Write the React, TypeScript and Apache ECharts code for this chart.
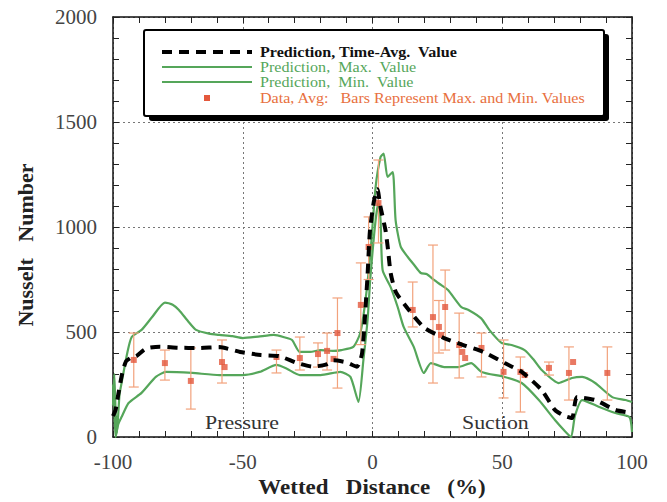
import React, { useEffect, useRef } from "react";
import * as echarts from "echarts";

// Prediction, time-averaged value [x, y]
const predAvg: number[][] = [
  [-100, 100], [-99, 130], [-98, 200], [-96.5, 300], [-95, 360], [-93, 378], [-91, 385], [-88, 415],
  [-86, 425], [-82, 430], [-75, 425], [-67, 424], [-59, 428], [-51, 405], [-43, 390], [-36, 385],
  [-29, 352], [-23, 335], [-18, 345], [-15, 365], [-10, 355], [-6, 335], [-4, 400], [-2, 750],
  [-1, 980], [0.5, 1120], [1.9, 1180], [3, 1100], [5, 985], [6, 890], [7, 780], [9, 690],
  [14, 605], [20, 520], [27.6, 471], [35, 438], [42.7, 405], [50.9, 352], [57.5, 310],
  [65.2, 224], [70.3, 129], [74, 100], [76.9, 90], [78.8, 190], [85.8, 176], [93.6, 129], [100, 114],
];

// Prediction, max value
const predMax: number[][] = [
  [-100, 150], [-99.5, 300], [-99, 120], [-98.5, 20], [-97.5, 200], [-96.7, 257], [-94.5, 400],
  [-92.8, 476], [-89, 510], [-85, 570], [-80, 640], [-77, 630], [-74.6, 605], [-71, 550], [-68, 510],
  [-63, 492], [-59, 486], [-54, 480], [-50, 471], [-44, 478], [-38, 486], [-34, 475], [-31, 462],
  [-28, 405], [-24, 405], [-20, 414], [-15, 410], [-12, 414], [-7.4, 429], [-4.7, 495], [-2.7, 652],
  [-0.8, 876], [1.2, 1190], [3.1, 1333], [4.3, 1350], [5.8, 1238], [7.8, 1262], [8.9, 1033],
  [10.9, 905], [13.6, 857], [16, 820], [18.6, 781], [21, 775], [23.7, 748], [26.4, 724], [29.1, 700],
  [34.2, 619], [37, 605], [41.9, 565], [45, 510], [49.7, 448], [53.6, 438], [58.6, 414], [62, 370],
  [65.2, 319], [71.8, 257], [76.9, 281], [80.8, 286], [85.8, 257], [92.4, 190], [97.5, 176], [100, 167],
];

// Prediction, min value
const predMin: number[][] = [
  [-100, 250], [-99.5, 150], [-99, 0], [-98, 60], [-96.7, 95], [-94, 162], [-89, 210], [-83.5, 286],
  [-79.6, 310], [-69.5, 305], [-59, 295], [-50, 295], [-43.5, 310], [-37, 343], [-33, 325], [-28, 295],
  [-20, 295], [-12.4, 310], [-8.5, 286], [-5.4, 167], [-3.5, 367], [-1.9, 557], [-0.8, 762],
  [1.2, 1033], [2.3, 1114], [3.1, 1033], [3.9, 795], [7, 714], [9.7, 619], [12, 524], [15.9, 429],
  [19.8, 305], [22.5, 352], [27.6, 333], [33, 333], [38, 352], [42, 310], [50.9, 286], [57.5, 257],
  [64.1, 176], [70.3, 81], [74, 30], [76.5, 0], [78, 100], [80.8, 176], [87.4, 143], [93.6, 114],
  [99, 95], [100, 24],
];

// Measured data: position, average, min, max (null = no bar)
const dataX: number[] = [-92, -80, -70, -58, -57, -37, -28, -21, -17.5, -15, -13.5, -4.5, -1.5, 2.3, 15.5, 23.3, 25.6, 26.4, 28, 33.4, 34.6, 35.7, 42, 50.5, 57, 58.6, 68, 75.7, 77.3, 90.5];
const dataAvg: number[] = [367, 352, 267, 357, 333, 381, 376, 395, 410, 372, 495, 629, 905, 1114, 605, 571, 524, 486, 619, 438, 405, 376, 424, 310, 310, 295, 329, 305, 357, 305];
const dataLow: (number | null)[] = [238, 271, 133, 257, null, 305, 319, 333, 319, null, 233, 440, 750, 924, 524, 257, 400, null, 414, 281, null, null, 286, 186, 119, null, 295, 176, null, 176];
const dataHigh: (number | null)[] = [495, 414, 424, 462, null, 414, 476, 448, 495, null, 662, 829, 1048, 1319, 738, 914, 650, null, 795, 590, null, null, 495, 462, 381, null, 357, 429, null, 429];

const SERIF = "'Liberation Serif', 'DejaVu Serif', serif";
const GREEN = "#55a65a";
const DOT = "#e4583c";
const BAR = "#f2a27c";
const SX = 1.15;

export default function App() {
  const ref = useRef<HTMLDivElement>(null);
  useEffect(() => {
    if (!ref.current) return;
    const chart = echarts.init(ref.current, null, { renderer: "svg" });
    const points = dataX.map((x, i) => [x, dataAvg[i]]);
    const bars = dataX
      .map((x, i) => [x, dataLow[i], dataHigh[i]])
      .filter((d) => d[1] !== null && d[2] !== null);
    const tickCommon = { show: true, inside: true, length: 6, lineStyle: { color: "#222", width: 1 } };
    const minorCommon = { show: true, splitNumber: 5, length: 6, lineStyle: { color: "#222", width: 1 } };
    const axisLine = { show: true, onZero: false, lineStyle: { color: "#111", width: 1.5 } };
    const txt = (text: string, x: number, y: number, size: number, fill: string, bold = false, extra: any = {}) => ({
      type: "text", x, y, scaleX: SX, z: 102,
      style: { text, fontFamily: SERIF, fontSize: size, fontWeight: bold ? "bold" : "normal", fill, verticalAlign: "middle", ...extra },
    });
    chart.setOption({
      animation: false,
      backgroundColor: "#fff",
      grid: { left: 113, right: 35, top: 17, bottom: 65, containLabel: false },
      xAxis: [
        {
          type: "value", min: -100, max: 100, interval: 50, position: "bottom",
          axisLine, axisTick: tickCommon, minorTick: minorCommon,
          axisLabel: { fontFamily: SERIF, fontSize: 21, color: "#444", margin: 14 },
          splitLine: { show: true, lineStyle: { color: "#777", type: [2, 3], width: 1 } },
        },
        {
          type: "value", min: -100, max: 100, interval: 50, position: "top",
          axisLine, axisTick: tickCommon, minorTick: minorCommon,
          axisLabel: { show: false }, splitLine: { show: false },
        },
      ],
      yAxis: [
        {
          type: "value", min: 0, max: 2000, interval: 500, position: "left",
          axisLine, axisTick: tickCommon, minorTick: minorCommon,
          axisLabel: { fontFamily: SERIF, fontSize: 21, color: "#444", margin: 16, formatter: (v: number) => String(v) },
          splitLine: { show: true, lineStyle: { color: "#777", type: [2, 3], width: 1 } },
        },
        {
          type: "value", min: 0, max: 2000, interval: 500, position: "right",
          axisLine, axisTick: tickCommon, minorTick: minorCommon,
          axisLabel: { show: false }, splitLine: { show: false },
        },
      ],
      series: [
        {
          type: "line", data: predMax, showSymbol: false, smooth: 0.2,
          lineStyle: { color: GREEN, width: 2.2 }, z: 3,
        },
        {
          type: "line", data: predMin, showSymbol: false, smooth: 0.2,
          lineStyle: { color: GREEN, width: 2.2 }, z: 3,
        },
        {
          type: "custom", data: bars, z: 4,
          renderItem: (params: any, api: any) => {
            const x = api.value(0);
            const lo = api.coord([x, api.value(1)]);
            const hi = api.coord([x, api.value(2)]);
            const w = 5;
            const style = { stroke: BAR, lineWidth: 1.2 };
            return {
              type: "group",
              children: [
                { type: "line", shape: { x1: lo[0], y1: lo[1], x2: hi[0], y2: hi[1] }, style },
                { type: "line", shape: { x1: lo[0] - w, y1: lo[1], x2: lo[0] + w, y2: lo[1] }, style },
                { type: "line", shape: { x1: hi[0] - w, y1: hi[1], x2: hi[0] + w, y2: hi[1] }, style },
              ],
            };
          },
        },
        {
          type: "scatter", data: points, symbol: "rect", symbolSize: 6,
          itemStyle: { color: DOT }, z: 5,
        },
        {
          type: "line", data: predAvg, showSymbol: false, smooth: 0.2,
          lineStyle: { color: "#000", width: 4, type: [10, 7] }, z: 6,
        },
      ],
      graphic: [
        { type: "rect", shape: { x: 149, y: 34, width: 460, height: 87, r: 3 }, style: { fill: "#000" }, z: 100 },
        { type: "rect", shape: { x: 144, y: 30, width: 460, height: 86, r: 2 }, style: { fill: "#fff", stroke: "#000", lineWidth: 2 }, z: 101 },
        { type: "line", shape: { x1: 162, y1: 52, x2: 252, y2: 52 }, style: { stroke: "#000", lineWidth: 4, lineDash: [10, 7] }, z: 102 },
        { type: "line", shape: { x1: 162, y1: 67, x2: 252, y2: 67 }, style: { stroke: GREEN, lineWidth: 2 }, z: 102 },
        { type: "line", shape: { x1: 162, y1: 82, x2: 252, y2: 82 }, style: { stroke: GREEN, lineWidth: 2 }, z: 102 },
        { type: "rect", shape: { x: 204, y: 95, width: 6, height: 6 }, style: { fill: DOT }, z: 102 },
        txt("Prediction, Time-Avg.  Value", 260, 52, 14, "#111", true),
        txt("Prediction,  Max.  Value", 260, 67, 14, GREEN),
        txt("Prediction,  Min.  Value", 260, 82, 14, GREEN),
        txt("Data, Avg:   Bars Represent Max. and Min. Values", 260, 98, 14, "#e8703e"),
        txt("Pressure", 205, 423, 19, "#333"),
        txt("Suction", 462, 423, 19, "#333"),
        txt("Wetted   Distance   (%)", 372, 488, 20, "#222", true, { align: "center" }),
        {
          type: "text", x: 25, y: 245, rotation: Math.PI / 2, z: 102,
          style: { text: "Nusselt   Number", fontFamily: SERIF, fontSize: 22, fontWeight: "bold", fill: "#222", align: "center", verticalAlign: "middle" },
        },
      ],
    });
    return () => chart.dispose();
  }, []);
  return <div ref={ref} style={{ width: 667, height: 502, position: "absolute", left: 0, top: 0 }} />;
}
